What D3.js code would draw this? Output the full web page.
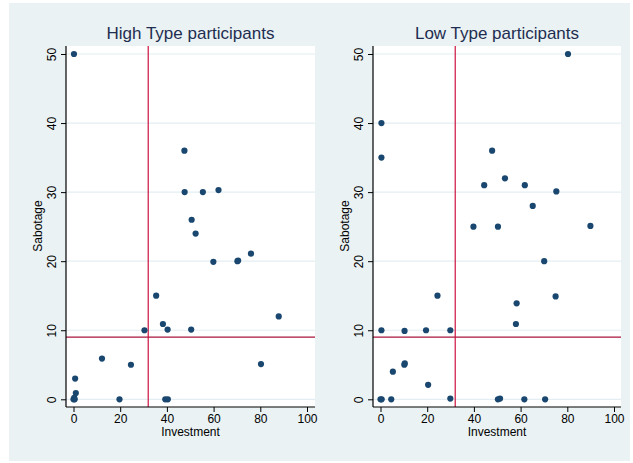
<!DOCTYPE html>
<html>
<head>
<meta charset="utf-8">
<script src="https://cdn.jsdelivr.net/npm/d3@7"></script>
<style>
  html, body { margin: 0; padding: 0; background: #ffffff; }
  svg { display: block; font-family: "Liberation Sans", Arial, sans-serif; }
</style>
</head>
<body>
<svg id="chart" width="633" height="463"></svg>
<script>
// Panel titles and axis labels
const panelTitles = ["High Type participants", "Low Type participants"];
const xLabel = "Investment";
const yLabel = "Sabotage";
const xTicks = [0, 20, 40, 60, 80, 100];
const yTicks = [0, 10, 20, 30, 40, 50];

// Reference lines: investment threshold and sabotage threshold
const investmentCut = 32;
const sabotageCut = 9;

// High Type participants
const highInvestment = [0.2, 47.5, 47.6, 55.4, 62.1, 50.6, 52.3, 59.9, 70.2, 70.5, 76.0, 35.4, 87.9,
  38.3, 30.4, 40.3, 50.4, 12.2, 24.6, 80.3, 0.7, 1.0, 0, 0.5, 0.3, 19.7, 39.3, 40.4];
const highSabotage = [50, 36, 30, 30, 30.3, 26, 24, 19.9, 20, 20.1, 21.1, 15, 12,
  10.9, 10, 10.1, 10.1, 5.9, 5, 5.1, 3, 0.9, 0, 0, 0.2, 0, 0, 0];

// Low Type participants
const lowInvestment = [0.4, 0.4, 80.3, 47.8, 44.4, 53.3, 61.8, 75.3, 65.2, 39.8, 50.3, 89.9, 70.1,
  24.4, 75.0, 58.3, 58.0, 0.4, 10.3, 19.5, 29.9, 10.2, 10.4, 5.3, 20.4, 0, 0.5, 4.6, 29.9,
  50.3, 51.2, 61.6, 70.5];
const lowSabotage = [40, 35, 50, 36, 31, 32, 31, 30.1, 28, 25, 25, 25.1, 20,
  15, 14.9, 13.9, 10.9, 10, 9.9, 10, 10, 5, 5.2, 4, 2.1, 0, 0, 0, 0.1,
  0, 0.1, 0, 0];

const panels = [
  { title: panelTitles[0], xs: highInvestment, ys: highSabotage, axisX: 66, right: 315 },
  { title: panelTitles[1], xs: lowInvestment, ys: lowSabotage, axisX: 373, right: 621 }
];

const svg = d3.select("#chart");
const colors = {
  outer: "#eaf2f3",
  plot: "#ffffff",
  grid: "#e4eef2",
  axis: "#000000",
  text: "#000000",
  title: "#1e2d50",
  dot: "#1a476f",
  vline: "#cc1240",
  hline: "#a8163c"
};
const tickFont = 12, labelFont = 12, titleFont = 17;

// Outer graph region
svg.append("rect").attr("x", 9).attr("y", 3).attr("width", 621).attr("height", 458)
  .attr("fill", colors.outer);

const plotTop = 46, axisY = 407;
const y = d3.scaleLinear().domain([0, 50]).range([399.3, 54]);

panels.forEach(p => {
  const g = svg.append("g");
  const x = d3.scaleLinear().domain([0, 100]).range([p.axisX + 7.5, p.axisX + 241]);

  // plot region
  g.append("rect").attr("x", p.axisX).attr("y", plotTop)
    .attr("width", p.right - p.axisX).attr("height", axisY - plotTop)
    .attr("fill", colors.plot);

  // horizontal gridlines
  g.selectAll("line.grid").data(yTicks).join("line")
    .attr("class", "grid")
    .attr("x1", p.axisX).attr("x2", p.right)
    .attr("y1", d => y(d)).attr("y2", d => y(d))
    .attr("stroke", colors.grid).attr("stroke-width", 1.2);

  // reference lines
  g.append("line")
    .attr("x1", p.axisX).attr("x2", p.right)
    .attr("y1", y(sabotageCut)).attr("y2", y(sabotageCut))
    .attr("stroke", colors.hline).attr("stroke-width", 1.2);
  g.append("line")
    .attr("x1", x(investmentCut)).attr("x2", x(investmentCut))
    .attr("y1", plotTop).attr("y2", axisY)
    .attr("stroke", colors.vline).attr("stroke-width", 1.2);

  // points
  const pts = p.xs.map((v, i) => [v, p.ys[i]]);
  g.selectAll("circle").data(pts).join("circle")
    .attr("cx", d => x(d[0])).attr("cy", d => y(d[1]))
    .attr("r", 3.1).attr("fill", colors.dot);

  // x axis
  const xAxis = g.append("g").attr("transform", `translate(0,${axisY})`)
    .call(d3.axisBottom(x).tickValues(xTicks).tickSize(5).tickPadding(2).tickSizeOuter(0));
  xAxis.select(".domain").remove();
  xAxis.append("line").attr("x1", p.axisX).attr("x2", p.right)
    .attr("stroke", colors.axis).attr("stroke-width", 1.2);
  xAxis.selectAll(".tick line").attr("stroke", colors.axis);
  xAxis.selectAll(".tick text").attr("font-size", tickFont).attr("fill", colors.text)
    .attr("font-family", "Liberation Sans, Arial, sans-serif");

  // y axis
  const yAxis = g.append("g").attr("transform", `translate(${p.axisX},0)`)
    .call(d3.axisLeft(y).tickValues(yTicks).tickSize(5).tickSizeOuter(0).tickFormat(d3.format("d")));
  yAxis.select(".domain").remove();
  yAxis.append("line").attr("y1", plotTop).attr("y2", axisY)
    .attr("stroke", colors.axis).attr("stroke-width", 1.2);
  yAxis.selectAll(".tick line").attr("stroke", colors.axis);
  yAxis.selectAll(".tick text")
    .attr("font-size", tickFont).attr("fill", colors.text)
    .attr("font-family", "Liberation Sans, Arial, sans-serif")
    .attr("x", null).attr("dy", null)
    .attr("text-anchor", "middle")
    .attr("transform", "translate(-14.5,0) rotate(-90)")
    .attr("y", 0).attr("dy", "0.35em");

  // axis titles
  g.append("text")
    .attr("x", (p.axisX + p.right) / 2).attr("y", 436)
    .attr("text-anchor", "middle").attr("font-size", labelFont).attr("fill", colors.text)
    .text(xLabel);
  g.append("text")
    .attr("transform", `translate(${p.axisX - 28},226) rotate(-90)`)
    .attr("text-anchor", "middle").attr("dy", "0.35em")
    .attr("font-size", labelFont).attr("fill", colors.text)
    .text(yLabel);

  // panel title
  g.append("text")
    .attr("x", (p.axisX + p.right) / 2).attr("y", 39)
    .attr("text-anchor", "middle").attr("font-size", titleFont).attr("fill", colors.title)
    .text(p.title);
});
</script>
</body>
</html>
